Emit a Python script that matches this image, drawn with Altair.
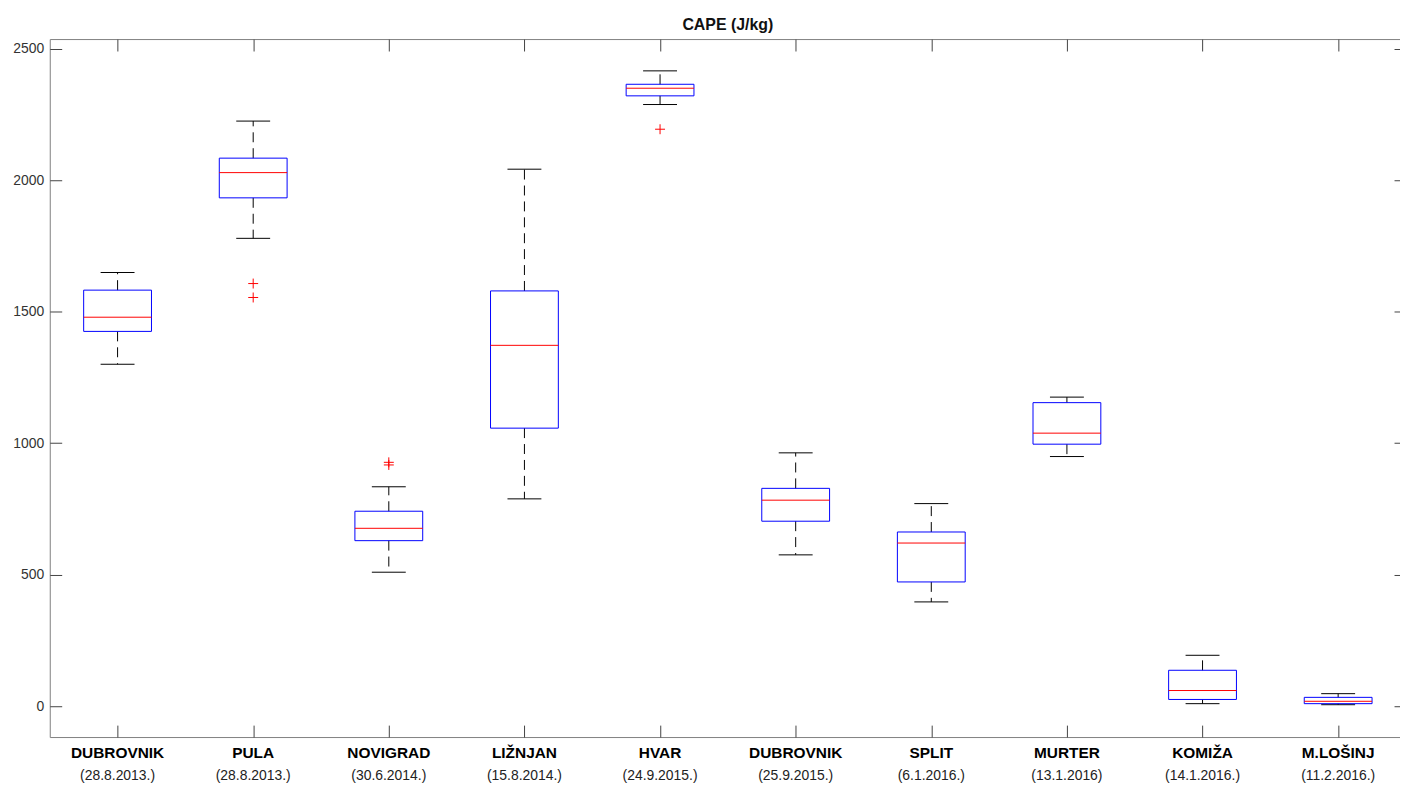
import altair as alt
import pandas as pd

# ---- data ----
names = ["DUBROVNIK", "PULA", "NOVIGRAD", "LIŽNJAN", "HVAR",
         "DUBROVNIK", "SPLIT", "MURTER", "KOMIŽA", "M.LOŠINJ"]
dates = ["(28.8.2013.)", "(28.8.2013.)", "(30.6.2014.)", "(15.8.2014.)", "(24.9.2015.)",
         "(25.9.2015.)", "(6.1.2016.)", "(13.1.2016)", "(14.1.2016.)", "(11.2.2016.)"]
whisker_low = [1300, 1779, 509, 788, 2288, 575, 396, 949, 9, 5]
q1 = [1425, 1933, 629, 1057, 2321, 703, 472, 996, 25, 9]
median = [1479, 2029, 676, 1372, 2350, 783, 620, 1038, 59, 18]
q3 = [1582, 2084, 741, 1579, 2365, 828, 662, 1154, 136, 33]
whisker_high = [1649, 2225, 834, 2042, 2416, 963, 770, 1175, 193, 47]
outlier_station = [2, 2, 3, 3, 5]
outlier_value = [1607, 1554, 927, 917, 2194]
y_ticks = [0, 500, 1000, 1500, 2000, 2500]
title_text = ["CAPE (J/kg)"]

positions = list(range(1, len(names) + 1))
df = pd.DataFrame({
    "pos": positions, "name": names, "date": dates,
    "wlo": whisker_low, "q1": q1, "med": median, "q3": q3, "whi": whisker_high,
})
df["xl"] = df["pos"] - 0.25
df["xr"] = df["pos"] + 0.25
df["cl"] = df["pos"] - 0.125
df["cr"] = df["pos"] + 0.125
odf = pd.DataFrame({"pos": outlier_station, "val": outlier_value})
tdf = pd.DataFrame({"t": title_text})

W, H = 1364, 702
xs = alt.Scale(domain=[0.5, 10.5], nice=False, zero=False)
ys = alt.Scale(domain=[-118, 2537], nice=False, zero=False)

TICK = "#444444"
FONT = "Liberation Sans"

axis_bottom = alt.Axis(orient="bottom", values=positions, tickSize=12, offset=-12,
                       labels=False, domain=False, grid=False, title=None,
                       tickColor=TICK, tickWidth=1)
axis_top = alt.Axis(orient="top", values=positions, tickSize=12, offset=-12,
                    labels=False, domain=False, grid=False, title=None,
                    tickColor=TICK, tickWidth=1)
axis_left = alt.Axis(orient="left", values=y_ticks, tickSize=12, offset=-12,
                     labelPadding=6, domain=False, grid=False, title=None, format="d",
                     tickColor=TICK, tickWidth=1, labelFont=FONT, labelFontSize=14,
                     labelColor="#333333")
axis_right = alt.Axis(orient="right", values=y_ticks, tickSize=12, offset=-12,
                      labels=False, domain=False, grid=False, title=None,
                      tickColor=TICK, tickWidth=1)

base = alt.Chart(df)

up_whisk = base.mark_rule(color="black", strokeWidth=1, strokeDash=[10, 6]).encode(
    x=alt.X("pos:Q", scale=xs, axis=axis_bottom),
    y=alt.Y("q3:Q", scale=ys, axis=axis_left),
    y2="whi:Q",
)
lo_whisk = base.mark_rule(color="black", strokeWidth=1, strokeDash=[10, 6]).encode(
    x=alt.X("pos:Q", scale=xs, axis=axis_top),
    y=alt.Y("q1:Q", scale=ys, axis=axis_right),
    y2="wlo:Q",
)
cap_hi = base.mark_rule(color="black", strokeWidth=1).encode(
    x=alt.X("cl:Q", scale=xs, axis=None), x2="cr:Q",
    y=alt.Y("whi:Q", scale=ys, axis=None),
)
cap_lo = base.mark_rule(color="black", strokeWidth=1).encode(
    x=alt.X("cl:Q", scale=xs, axis=None), x2="cr:Q",
    y=alt.Y("wlo:Q", scale=ys, axis=None),
)
boxes = base.mark_rect(fillOpacity=0, stroke="#0000ff", strokeWidth=1).encode(
    x=alt.X("xl:Q", scale=xs, axis=None), x2="xr:Q",
    y=alt.Y("q1:Q", scale=ys, axis=None), y2="q3:Q",
)
medians = base.mark_rule(color="#ff0000", strokeWidth=1).encode(
    x=alt.X("xl:Q", scale=xs, axis=None), x2="xr:Q",
    y=alt.Y("med:Q", scale=ys, axis=None),
)
outliers = alt.Chart(odf).mark_point(
    shape="M-1,0H1M0,-1V1", size=100, color="#ff0000", filled=False,
    strokeWidth=1, opacity=1,
).encode(
    x=alt.X("pos:Q", scale=xs, axis=None),
    y=alt.Y("val:Q", scale=ys, axis=None),
)
name_text = base.mark_text(font=FONT, fontSize=15.5, fontWeight="bold", color="#000000",
                           baseline="middle", align="center").encode(
    x=alt.X("pos:Q", scale=xs, axis=None),
    y=alt.value(H + 16),
    text="name:N",
)
date_text = base.mark_text(font=FONT, fontSize=14, color="#222222",
                           baseline="middle", align="center").encode(
    x=alt.X("pos:Q", scale=xs, axis=None),
    y=alt.value(H + 39),
    text="date:N",
)
title = alt.Chart(tdf).mark_text(font=FONT, fontSize=16, fontWeight="bold", color="#111111",
                                 baseline="alphabetic", align="center").encode(
    x=alt.value(W / 2),
    y=alt.value(-9),
    text="t:N",
)

chart = alt.layer(
    up_whisk, lo_whisk, cap_hi, cap_lo, boxes, medians, outliers, name_text, date_text, title
).resolve_axis(
    x="independent", y="independent"
).properties(
    width=W, height=H,
    autosize=alt.AutoSizeParams(type="none"),
    padding={"left": 42, "top": 29, "right": -6, "bottom": 48},
).configure_view(
    stroke="#808080", strokeWidth=1
)

chart.save("out.html", embed_options={"renderer": "svg", "actions": False})
